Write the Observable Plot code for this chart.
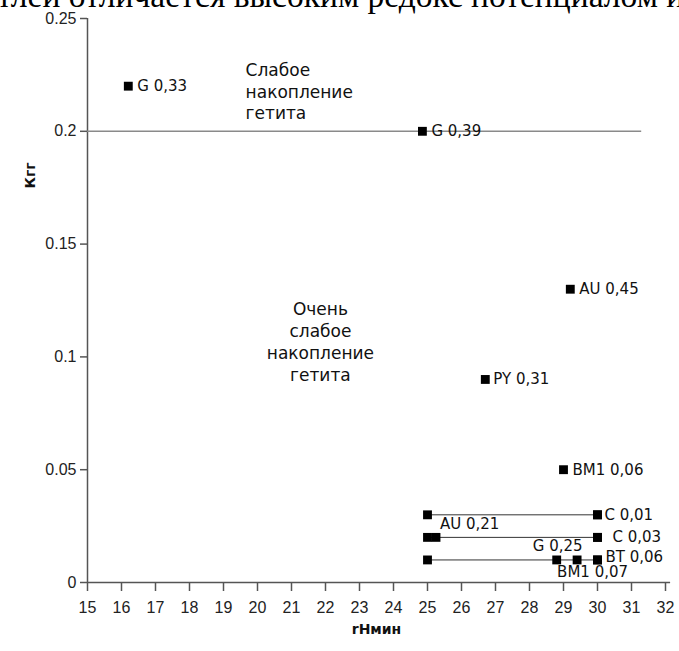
<!DOCTYPE html>
<html>
<head>
<meta charset="utf-8">
<script src="https://cdn.jsdelivr.net/npm/d3@7"></script>
<script src="https://cdn.jsdelivr.net/npm/@observablehq/plot@0.6"></script>
<style>
  body { margin: 0; background: #fff; }
  #wrap { position: relative; width: 679px; height: 651px; overflow: hidden; background: #fff; }
  #chart { position: absolute; left: 0; top: 0; }
  #lead {
    position: absolute; left: -3px; top: -21px; white-space: nowrap;
    font-family: "Liberation Serif", "Times New Roman", serif;
    font-size: 33.5px; line-height: 33.5px; color: #000;
  }
</style>
</head>
<body>
<div id="wrap">
  <div id="chart"></div>
  <div id="lead">тлей отличается высоким редокс потенциалом и</div>
</div>
<script>
// Samples: label, minimum rH and goethite coefficient
const sampleLabels = ["G 0,33", "G 0,39", "AU 0,45", "PY 0,31", "BM1 0,06", "C 0,01", "C 0,03", "AU 0,21", "G 0,25", "BM1 0,07", "BT 0,06"];
const sampleRH     = [16.2, 24.85, 29.2, 26.7, 29.0, 30, 30, 25.25, 28.8, 29.4, 30];
const sampleK      = [0.22, 0.2, 0.13, 0.09, 0.05, 0.03, 0.02, 0.02, 0.01, 0.01, 0.01];

// rH ranges drawn as segments with end squares
const rangeK    = [0.03, 0.02, 0.01];
const rangeFrom = [25, 25, 25];
const rangeTo   = [30, 30, 30];

// Threshold between weak and very weak goethite accumulation
const thresholdK = 0.2;
const thresholdFrom = 15;
const thresholdTo = 31.3;

// Zone captions
const zoneText = ["Слабое\nнакопление\nгетита", "Очень\nслабое\nнакопление\nгетита"];
const zoneRH   = [19.65, 21.85];
const zoneK    = [0.218, 0.107];

// Axis ticks and titles
const xTicks = [15, 16, 17, 18, 19, 20, 21, 22, 23, 24, 25, 26, 27, 28, 29, 30, 31, 32];
const yTicks = [0, 0.05, 0.1, 0.15, 0.2, 0.25];
const xTitle = "rНмин";
const yTitle = "Кгг";

const samples = sampleLabels.map((label, i) => ({label, rH: sampleRH[i], k: sampleK[i]}));
const ranges = rangeK.map((k, i) => ({k, from: rangeFrom[i], to: rangeTo[i]}));
const rangeEnds = ranges.flatMap(r => [{rH: r.from, k: r.k}, {rH: r.to, k: r.k}]);
const zones = zoneText.map((text, i) => ({text, rH: zoneRH[i], k: zoneK[i]}));

// Where each sample caption sits relative to its square
const placement = {
  "G 0,33":   {dx: 9,   dy: 0,   anchor: "start"},
  "G 0,39":   {dx: 9,   dy: 0,   anchor: "start"},
  "AU 0,45":  {dx: 9,   dy: 0,   anchor: "start"},
  "PY 0,31":  {dx: 8,   dy: 0,   anchor: "start"},
  "BM1 0,06": {dx: 9,   dy: 0,   anchor: "start"},
  "C 0,01":   {dx: 7,   dy: 0,   anchor: "start"},
  "C 0,03":   {dx: 15,  dy: 0,   anchor: "start"},
  "AU 0,21":  {dx: 4,   dy: -13, anchor: "start"},
  "G 0,25":   {dx: 1,   dy: -14, anchor: "middle"},
  "BM1 0,07": {dx: -20, dy: 12,  anchor: "start"},
  "BT 0,06":  {dx: 8,   dy: -3,  anchor: "start"}
};

const labelFont = "DejaVu Sans, Verdana, sans-serif";
const labelMarks = samples.map(s => {
  const p = placement[s.label];
  return Plot.text([s], {
    x: "rH", y: "k", text: "label",
    dx: p.dx, dy: p.dy, textAnchor: p.anchor,
    fontFamily: labelFont, fontSize: 15, fill: "#111"
  });
});

const chart = Plot.plot({
  width: 679,
  height: 651,
  marginLeft: 87,
  marginRight: 14,
  marginTop: 18,
  marginBottom: 69,
  style: {fontFamily: "Liberation Sans, Arial, sans-serif", fontSize: "16px", background: "#fff", color: "#222"},
  x: {domain: [15, 32]},
  y: {domain: [0, 0.25]},
  marks: [
    // axes
    Plot.axisX(xTicks, {tickSize: 9, tickPadding: 10, stroke: "#555", strokeWidth: 1.5, fill: "#222", fontSize: 16, label: null}),
    Plot.axisY(yTicks, {tickSize: 7, tickPadding: 4, stroke: "#555", strokeWidth: 1.5, fill: "#222", fontSize: 16, label: null, tickFormat: d => String(d)}),
    Plot.ruleY([0], {x1: 15, x2: 32.15, stroke: "#555", strokeWidth: 1.5}),
    Plot.ruleX([15], {y1: 0, y2: 0.25, stroke: "#555", strokeWidth: 1.5}),
    // threshold line
    Plot.ruleY([thresholdK], {x1: thresholdFrom, x2: thresholdTo, stroke: "#8a8a8a", strokeWidth: 1.5}),
    // rH ranges
    Plot.ruleY(ranges, {y: "k", x1: "from", x2: "to", stroke: "#333", strokeWidth: 1}),
    Plot.dot(rangeEnds, {x: "rH", y: "k", symbol: "square", r: 5, fill: "#000", stroke: null}),
    // samples
    Plot.dot(samples, {x: "rH", y: "k", symbol: "square", r: 5, fill: "#000", stroke: null}),
    ...labelMarks,
    // zone captions
    Plot.text(zones.slice(0, 1), {x: "rH", y: "k", text: "text", textAnchor: "start", lineHeight: 1.27, fontFamily: labelFont, fontSize: 17, fill: "#111"}),
    Plot.text(zones.slice(1), {x: "rH", y: "k", text: "text", textAnchor: "middle", lineHeight: 1.3, fontFamily: labelFont, fontSize: 17, fill: "#111"}),
    // axis titles
    Plot.text([xTitle], {frameAnchor: "bottom", dy: 51, fontFamily: "DejaVu Sans, sans-serif", fontWeight: "bold", fontSize: 14, fill: "#111"}),
    Plot.text([yTitle], {frameAnchor: "left", dx: -57, dy: -112, rotate: -90, fontFamily: "DejaVu Sans, sans-serif", fontWeight: "bold", fontSize: 14, fill: "#111"})
  ]
});

document.getElementById("chart").appendChild(chart);
</script>
</body>
</html>
